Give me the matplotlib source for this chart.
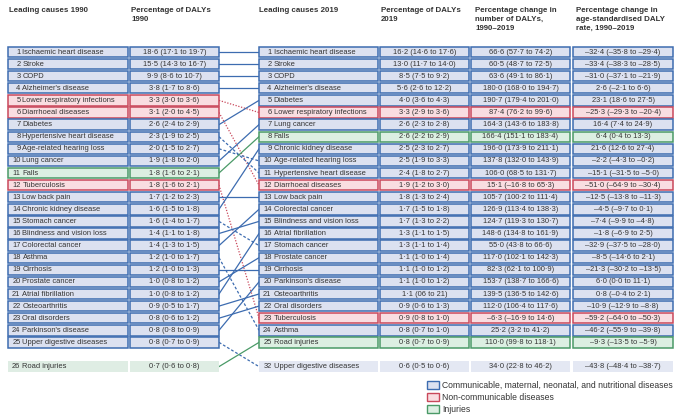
import matplotlib
matplotlib.use("Agg")
import matplotlib.pyplot as plt
from matplotlib.patches import Rectangle
from matplotlib import font_manager

# ---------------- data ----------------
names1990 = ["Ischaemic heart disease", "Stroke", "COPD", "Alzheimer's disease",
             "Lower respiratory infections", "Diarrhoeal diseases", "Diabetes",
             "Hypertensive heart disease", "Age-related hearing loss", "Lung cancer",
             "Falls", "Tuberculosis", "Low back pain", "Chronic kidney disease",
             "Stomach cancer", "Blindness and vision loss", "Colorectal cancer",
             "Asthma", "Cirrhosis", "Prostate cancer", "Atrial fibrillation",
             "Osteoarthritis", "Oral disorders", "Parkinson's disease",
             "Upper digestive diseases", "Road injuries"]
ranks1990 = list(range(1, 27))
pct1990 = ["18·6 (17·1 to 19·7)", "15·5 (14·3 to 16·7)", "9·9 (8·6 to 10·7)",
           "3·8 (1·7 to 8·6)", "3·3 (3·0 to 3·6)", "3·1 (2·0 to 4·5)",
           "2·6 (2·4 to 2·9)", "2·3 (1·9 to 2·5)", "2·0 (1·5 to 2·7)",
           "1·9 (1·8 to 2·0)", "1·8 (1·6 to 2·1)", "1·8 (1·6 to 2·1)",
           "1·7 (1·2 to 2·3)", "1·6 (1·5 to 1·8)", "1·6 (1·4 to 1·7)",
           "1·4 (1·1 to 1·8)", "1·4 (1·3 to 1·5)", "1·2 (1·0 to 1·7)",
           "1·2 (1·0 to 1·3)", "1·0 (0·8 to 1·2)", "1·0 (0·8 to 1·2)",
           "0·9 (0·5 to 1·7)", "0·8 (0·6 to 1·2)", "0·8 (0·8 to 0·9)",
           "0·8 (0·7 to 0·9)", "0·7 (0·6 to 0·8)"]

names2019 = ["Ischaemic heart disease", "Stroke", "COPD", "Alzheimer's disease",
             "Diabetes", "Lower respiratory infections", "Lung cancer", "Falls",
             "Chronic kidney disease", "Age-related hearing loss",
             "Hypertensive heart disease", "Diarrhoeal diseases", "Low back pain",
             "Colorectal cancer", "Blindness and vision loss", "Atrial fibrillation",
             "Stomach cancer", "Prostate cancer", "Cirrhosis", "Parkinson's disease",
             "Osteoarthritis", "Oral disorders", "Tuberculosis", "Asthma",
             "Road injuries", "Upper digestive diseases"]
ranks2019 = list(range(1, 26)) + [32]
pct2019 = ["16·2 (14·6 to 17·6)", "13·0 (11·7 to 14·0)", "8·5 (7·5 to 9·2)",
           "5·6 (2·6 to 12·2)", "4·0 (3·6 to 4·3)", "3·3 (2·9 to 3·6)",
           "2·6 (2·3 to 2·8)", "2·6 (2·2 to 2·9)", "2·5 (2·3 to 2·7)",
           "2·5 (1·9 to 3·3)", "2·4 (1·8 to 2·7)", "1·9 (1·2 to 3·0)",
           "1·8 (1·3 to 2·4)", "1·7 (1·5 to 1·8)", "1·7 (1·3 to 2·2)",
           "1·3 (1·1 to 1·5)", "1·3 (1·1 to 1·4)", "1·1 (1·0 to 1·4)",
           "1·1 (1·0 to 1·2)", "1·1 (1·0 to 1·2)", "1·1 (06 to 21)",
           "0·9 (0·6 to 1·3)", "0·9 (0·8 to 1·0)", "0·8 (0·7 to 1·0)",
           "0·8 (0·7 to 0·9)", "0·6 (0·5 to 0·6)"]
change_num = ["66·6 (57·7 to 74·2)", "60·5 (48·7 to 72·5)", "63·6 (49·1 to 86·1)",
              "180·0 (168·0 to 194·7)", "190·7 (179·4 to 201·0)", "87·4 (76·2 to 99·6)",
              "164·3 (143·6 to 183·8)", "166·4 (151·1 to 183·4)", "196·0 (173·9 to 211·1)",
              "137·8 (132·0 to 143·9)", "106·0 (68·5 to 131·7)", "15·1 (–16·8 to 65·3)",
              "105·7 (100·2 to 111·4)", "126·9 (113·4 to 138·3)", "124·7 (119·3 to 130·7)",
              "148·6 (134·8 to 161·9)", "55·0 (43·8 to 66·6)", "117·0 (102·1 to 142·3)",
              "82·3 (62·1 to 100·9)", "153·7 (138·7 to 166·6)", "139·5 (136·5 to 142·6)",
              "112·0 (106·4 to 117·6)", "–6·3 (–16·9 to 14·6)", "25·2 (3·2 to 41·2)",
              "110·0 (99·8 to 118·1)", "34·0 (22·8 to 46·2)"]
change_rate = ["–32·4 (–35·8 to –29·4)", "–33·4 (–38·3 to –28·5)", "–31·0 (–37·1 to –21·9)",
               "2·6 (–2·1 to 6·6)", "23·1 (18·6 to 27·5)", "–25·3 (–29·3 to –20·4)",
               "16·4 (7·4 to 24·9)", "6·4 (0·4 to 13·3)", "21·6 (12·6 to 27·4)",
               "–2·2 (–4·3 to –0·2)", "–15·1 (–31·5 to –5·0)", "–51·0 (–64·9 to –30·4)",
               "–12·5 (–13·8 to –11·3)", "–4·5 (–9·7 to 0·1)", "–7·4 (–9·9 to –4·8)",
               "–1·8 (–6·9 to 2·5)", "–32·9 (–37·5 to –28·0)", "–8·5 (–14·6 to 2·1)",
               "–21·3 (–30·2 to –13·5)", "6·0 (0·0 to 11·1)", "0·8 (–0·4 to 2·1)",
               "–10·9 (–12·9 to –8·8)", "–59·2 (–64·0 to –50·3)", "–46·2 (–55·9 to –39·8)",
               "–9·3 (–13·5 to –5·9)", "–43·8 (–48·4 to –38·7)"]

red_causes = ["Lower respiratory infections", "Diarrhoeal diseases", "Tuberculosis"]
green_causes = ["Falls", "Road injuries"]

headers = ["Leading causes 1990", "Percentage of DALYs\n1990", "Leading causes 2019",
           "Percentage of DALYs\n2019", "Percentage change in\nnumber of DALYs,\n1990–2019",
           "Percentage change in\nage-standardised DALY\nrate, 1990–2019"]
legend_labels = ["Communicable, maternal, neonatal, and nutritional diseases",
                 "Non-communicable diseases", "Injuries"]

# ---------------- style ----------------
avail = {f.name for f in font_manager.fontManager.ttflist}
FAM = [f for f in ["Liberation Sans", "DejaVu Sans"] if f in avail]
plt.rcParams['font.family'] = FAM
TXT = "#333333"
EDGE = {"B": "#3d6cb0", "R": "#c9485b", "G": "#4a9a67"}
FACE = {"B": "#dce1f0", "R": "#f9dde1", "G": "#dcefe2"}
FACE_PLAIN = {"B": "#e4e8f3", "R": "#fae4e7", "G": "#dfede4"}


def cat(name):
    if name in red_causes:
        return "R"
    if name in green_causes:
        return "G"
    return "B"


fig = plt.figure(figsize=(6.8, 4.19), dpi=100)
ax = fig.add_axes([0, 0, 1, 1])
ax.set_xlim(0, 680)
ax.set_ylim(419, 0)
ax.axis("off")
renderer = fig.canvas.get_renderer()


def fit(sample, target_px, weight="normal"):
    t = ax.text(0, 0, sample, fontsize=10, fontweight=weight)
    w = t.get_window_extent(renderer).width
    t.remove()
    return 10.0 * target_px / w


FS = fit("1 Ischaemic heart disease", 88)
FS_H = fit("Percentage of DALYs", 79, "bold")
FS_L = fit(legend_labels[0], 231)

Y0, DY, H = 52.0, 12.1, 10.4


def ypos(i):
    return Y0 + i * DY


def box(x0, x1, yc, c, border=True):
    if border:
        ax.add_patch(Rectangle((x0, yc - H / 2), x1 - x0, H, facecolor=FACE[c],
                               edgecolor=EDGE[c], lw=1.1, zorder=2))
    else:
        ax.add_patch(Rectangle((x0, yc - H / 2), x1 - x0, H, facecolor=FACE_PLAIN[c],
                               edgecolor="none", zorder=2))


# column geometry
L_NAME = (8, 128)
L_VAL = (130, 219)
R_NAME = (259, 378)
R_VAL = (380, 469)
C_NUM = (471, 570)
C_RATE = (573, 673)

n = len(names1990)
disp = [i if i < n - 1 else i + 1 for i in range(n)]

# 1990 block
for i, (nm, rk, pv) in enumerate(zip(names1990, ranks1990, pct1990)):
    yc = ypos(disp[i])
    c = cat(nm)
    border = i < n - 1
    box(*L_NAME, yc, c, border)
    box(*L_VAL, yc, c, border)
    ax.text(20.5, yc, str(rk), ha="right", va="center", fontsize=FS, color=TXT, zorder=3)
    ax.text(22.5, yc, nm, ha="left", va="center", fontsize=FS, color=TXT, zorder=3)
    ax.text(sum(L_VAL) / 2, yc, pv, ha="center", va="center", fontsize=FS, color=TXT, zorder=3)

# 2019 block
for i, (nm, rk, pv, cn, cr) in enumerate(zip(names2019, ranks2019, pct2019, change_num, change_rate)):
    yc = ypos(disp[i])
    c = cat(nm)
    border = i < n - 1
    for col in (R_NAME, R_VAL, C_NUM, C_RATE):
        box(*col, yc, c, border)
    ax.text(271.5, yc, str(rk), ha="right", va="center", fontsize=FS, color=TXT, zorder=3)
    ax.text(273.5, yc, nm, ha="left", va="center", fontsize=FS, color=TXT, zorder=3)
    ax.text(sum(R_VAL) / 2, yc, pv, ha="center", va="center", fontsize=FS, color=TXT, zorder=3)
    ax.text(sum(C_NUM) / 2, yc, cn, ha="center", va="center", fontsize=FS, color=TXT, zorder=3)
    ax.text(sum(C_RATE) / 2, yc, cr, ha="center", va="center", fontsize=FS, color=TXT, zorder=3)

# connecting lines
for i, nm in enumerate(names1990):
    j = names2019.index(nm)
    c = cat(nm)
    moved_down = ranks2019[j] > ranks1990[i]
    if moved_down:
        ls = (0, (1.0, 1.3)) if c == "R" else (0, (2.2, 1.6))
    else:
        ls = "-"
    ax.plot([L_VAL[1], R_NAME[0]], [ypos(disp[i]), ypos(disp[j])], color=EDGE[c],
            lw=0.9, ls=ls, zorder=1)

# headers
hx = [L_NAME[0] + 1, L_VAL[0] + 1, R_NAME[0], R_VAL[0] + 1, C_NUM[0] + 4, C_RATE[0] + 3]
for x, h in zip(hx, headers):
    ax.text(x, 7.5, h, ha="left", va="top", fontsize=FS_H, color=TXT, fontweight="bold",
            linespacing=1.3)

# legend
for k, (lab, c) in enumerate(zip(legend_labels, ["B", "R", "G"])):
    yc = 385 + k * 12
    ax.add_patch(Rectangle((427, yc - 4), 12, 8, facecolor=FACE[c], edgecolor=EDGE[c], lw=1.0))
    ax.text(442, yc, lab, ha="left", va="center", fontsize=FS_L, color=TXT)

fig.savefig("out.png", dpi=100, facecolor="white")
